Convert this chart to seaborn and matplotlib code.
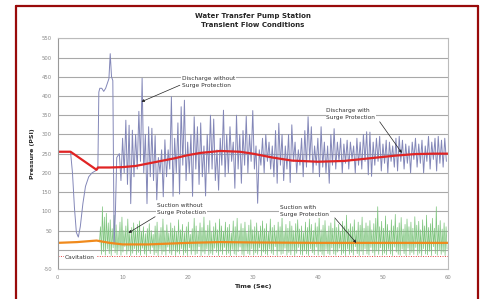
import numpy as np
import pandas as pd
import matplotlib.pyplot as plt
from matplotlib.lines import Line2D
import seaborn as sns

# Discharge with surge protection (red)
dis_with_time = [0, 2.0, 6.0, 6.2, 8, 10, 12, 15, 18, 20, 22, 25, 28, 30, 33, 36, 40,
                 44, 48, 52, 55, 58, 60]
dis_with_psi = [255, 255, 208, 214, 214, 215, 218, 228, 238, 246, 252, 257, 255, 250,
                240, 232, 229, 231, 238, 245, 249, 250, 250]

# Suction with surge protection (orange)
suc_with_time = [0, 3, 6, 8, 10, 14, 20, 25, 30, 40, 50, 60]
suc_with_psi = [18, 20, 24, 18, 14, 14, 18, 20, 19, 18, 18, 18]

# Discharge without surge protection: start-up transient
dis_wo_start_time = [0, 2.0, 2.3, 2.6, 2.9, 3.2, 3.5, 3.9, 4.3, 4.8, 5.3, 5.8, 6.2, 6.35,
                     6.5, 6.8, 7.1, 7.4, 7.7, 7.9, 8.1, 8.3, 8.5, 8.7, 8.9, 9.1, 9.3]
dis_wo_start_psi = [255, 255, 200, 110, 45, 33, 60, 120, 165, 190, 200, 205, 210, 410,
                    420, 420, 412, 420, 435, 445, 510, 450, 440, 15, 100, 240, 245]
# then peaks (every 0.5 s from 9.5 s) and troughs (every 0.5 s from 9.75 s)
dis_wo_peaks = [250, 290, 337, 324, 311, 300, 360, 446, 300, 320,
                316, 297, 240, 260, 286, 260, 398, 290, 330, 372,
                389, 280, 300, 346, 320, 330, 270, 300, 350, 340,
                260, 290, 363, 300, 320, 280, 350, 300, 310, 347,
                300, 362, 270, 260, 290, 300, 280, 270, 310, 329,
                300, 270, 300, 325, 280, 260, 290, 310, 346, 320,
                270, 290, 320, 280, 270, 300, 315, 280, 290, 275,
                285, 280, 270, 290, 280, 300, 307, 306, 280, 290,
                295, 275, 285, 280, 270, 290, 295, 285, 275, 270,
                280, 290, 275, 285, 270, 295, 280, 290, 295, 285, 290]
dis_wo_troughs = [180, 200, 170, 120, 190, 210, 230, 200, 120, 190,
                  180, 130, 200, 138, 190, 210, 139, 200, 145, 220,
                  180, 200, 139, 210, 170, 190, 140, 200, 210, 180,
                  155, 220, 190, 200, 230, 160, 210, 173, 220, 200,
                  230, 210, 121, 220, 200, 230, 210, 190, 173, 220,
                  180, 210, 175, 230, 200, 220, 190, 215, 230, 200,
                  220, 190, 215, 200, 173, 220, 210, 230, 200, 225,
                  210, 235, 200, 220, 210, 230, 195, 191, 220, 230,
                  205, 225, 200, 230, 215, 205, 230, 210, 225, 200,
                  235, 215, 225, 200, 230, 210, 235, 205, 225, 215, 230]

# Suction without surge protection: peaks every 0.3 s from 6.6 s, troughs from 6.75 s
suc_wo_peaks = [60, 112, 85, 95, 70, 78, 55, 90, 65, 48, 72, 85, 50, 62, 80, 45, 58, 70, 52, 66,
                75, 48, 60, 42, 55, 68, 50, 40, 62, 72, 45, 58, 80, 50, 65, 44, 70, 56, 62, 48,
                78, 52, 66, 45, 60, 72, 40, 55, 82, 62, 48, 70, 58, 85, 50, 64, 76, 46, 60, 70,
                52, 80, 62, 48, 72, 58, 66, 44, 75, 60, 82, 50, 68, 56, 72, 45, 64, 78, 52, 60,
                70, 48, 62, 75, 55, 68, 46, 80, 58, 64, 50, 72, 60, 85, 48, 66, 56, 74, 62, 50,
                68, 78, 54, 62, 45, 72, 58, 80, 66, 50, 70, 60, 88, 52, 64, 76, 48, 62, 70, 56,
                80, 58, 66, 48, 74, 62, 90, 54, 68, 60, 78, 50, 72, 64, 85, 56, 70, 62, 76, 52,
                68, 82, 112, 60, 74, 56, 88, 66, 50, 78, 62, 92, 58, 70, 84, 54, 66, 80, 60, 72,
                56, 86, 64, 74, 52, 78, 62, 90, 58, 68, 82, 56, 112, 64, 76, 54, 70, 60]
suc_wo_troughs = [-12, -5, -14, 2, -10, -15, 5, -8, -13, 0, -14, -6, 8, -12, -3, -15, -9, 3, -13, -7,
                  -14, 4, -11, -15, -2, -10, 6, -13, -8, -15, 1, -12, -5, -14, 7, -9, -13, -1, -15, -6,
                  -11, 3, -14, -8, -15, 5, -12, -3, -13, -10, 8, -15, -6, -11, 2, -14, -9, -13, 4, -7,
                  -15, -4, -12, 6, -13, -9, -15, 1, -11, -14, -5, 7, -12, -15, -2, -10, -13, 3, -14, -8,
                  -12, 5, -15, -6, -11, -14, 2, -9, -13, 8, -15, -4, -12, -10, 4, -14, -7, -13, 0, -15,
                  -9, 6, -12, -14, -3, -11, -15, 3, -8, -13, 7, -14, -5, -12, -15, 1, -10, -13, 5, -11,
                  -14, -6, 4, -13, -9, -15, 2, -12, -7, -14, 8, -10, -15, -4, -13, 3, -11, -14, 6, -8,
                  -15, -3, -12, 5, -14, -9, -13, 1, -11, -15, 7, -6, -12, -14, 2, -10, -15, 4, -13, -7,
                  -12, 6, -14, -9, -15, 3, -11, -13, -4, -15, 8, -10, -14, 0, -12, -6, -15, 2]

cavitation_psi = -15
y_ticks = list(range(-50, 551, 50))
x_ticks = list(range(0, 61, 10))


def interleave(a, b):
    return np.column_stack([a, b]).ravel()


k = np.arange(len(dis_wo_peaks))
dis_wo_time = np.concatenate([dis_wo_start_time, interleave(9.5 + 0.5 * k, 9.75 + 0.5 * k)])
dis_wo_psi = np.concatenate([dis_wo_start_psi, interleave(dis_wo_peaks, dis_wo_troughs)])

k = np.arange(len(suc_wo_peaks))
suc_wo_time = np.concatenate([[6.45], interleave(6.6 + 0.3 * k, 6.75 + 0.3 * k)])
suc_wo_psi = np.concatenate([[20], interleave(suc_wo_peaks, suc_wo_troughs)])

sns.set_style("white")
plt.rcParams['font.family'] = ['DejaVu Sans']

fig = plt.figure(figsize=(4.82, 2.99), dpi=100)
ax = fig.add_axes([0.1193, 0.1003, 0.8102, 0.7716])

sns.lineplot(x=suc_wo_time, y=suc_wo_psi, ax=ax, color="#7cc47c", lw=0.5,
             estimator=None, sort=False)
sns.lineplot(x=dis_wo_time, y=dis_wo_psi, ax=ax, color="#8387b8", lw=0.7,
             estimator=None, sort=False)
sns.lineplot(x=dis_with_time, y=dis_with_psi, ax=ax, color="#e02424", lw=1.6,
             estimator=None, sort=False)
sns.lineplot(x=suc_with_time, y=suc_with_psi, ax=ax, color="#f08a1c", lw=1.6,
             estimator=None, sort=False)
ax.axhline(cavitation_psi, color="#e04040", lw=0.7, ls=(0, (1, 1.5)))

ax.set_xlim(0, 60)
ax.set_ylim(-50, 550)
ax.set_xticks(x_ticks)
ax.set_yticks(y_ticks)
ax.set_yticklabels(["" if v == 0 else str(v) for v in y_ticks])
ax.yaxis.grid(True, color="#a8a8a8", lw=0.8)
ax.set_axisbelow(True)
ax.tick_params(axis="both", labelsize=3.8, labelcolor="#888888", length=2,
               color="#aaaaaa", width=0.5, pad=2)
for s in ax.spines.values():
    s.set_color("#bbbbbb")
    s.set_linewidth(0.8)
ax.spines["left"].set_color("#999999")

ax.set_xlabel("Time (Sec)", fontsize=4.5, fontweight="bold", labelpad=3)
ax.set_ylabel("Pressure (PSI)", fontsize=4.5, fontweight="bold", labelpad=5)
ax.set_title("Water Transfer Pump Station\nTransient Flow Conditions",
             fontsize=5, fontweight="bold", linespacing=1.6, pad=8)

box = dict(facecolor="white", edgecolor="none", pad=0.5)
arrow = dict(arrowstyle="-|>", color="#222222", lw=0.5, mutation_scale=4,
             shrinkA=0, shrinkB=0)
notes = [("Discharge without\nSurge Protection", (19.1, 437), (18.8, 428), (12.9, 385)),
         ("Discharge with\nSurge Protection", (41.3, 354), (49.5, 333), (52.9, 252)),
         ("Suction without\nSurge Protection", (15.3, 106), (15.0, 86), (10.9, 44)),
         ("Suction with\nSurge Protection", (34.2, 100), (42.6, 83), (45.9, 18))]
for label, txt_xy, tail, head in notes:
    ax.text(*txt_xy, label, fontsize=4.2, color="#333333", ha="left", va="center",
            linespacing=1.5, bbox=box, zorder=5)
    ax.annotate("", xy=head, xytext=tail, arrowprops=arrow, zorder=6)
ax.text(1.15, -20, "Cavitation", fontsize=4.2, color="#333333", ha="left",
        va="center", bbox=box, zorder=5)

# dark red frame around the chart
frame = dict(color="#990a0a", lw=1.6, transform=fig.transFigure)
fig.add_artist(Line2D([0.0332, 0.0332], [0, 0.98], **frame))
fig.add_artist(Line2D([0.0332, 0.9917], [0.98, 0.98], **frame))
fig.add_artist(Line2D([0.9917, 0.9917], [0.98, 0], **frame))

fig.savefig("out.png", dpi=100)
